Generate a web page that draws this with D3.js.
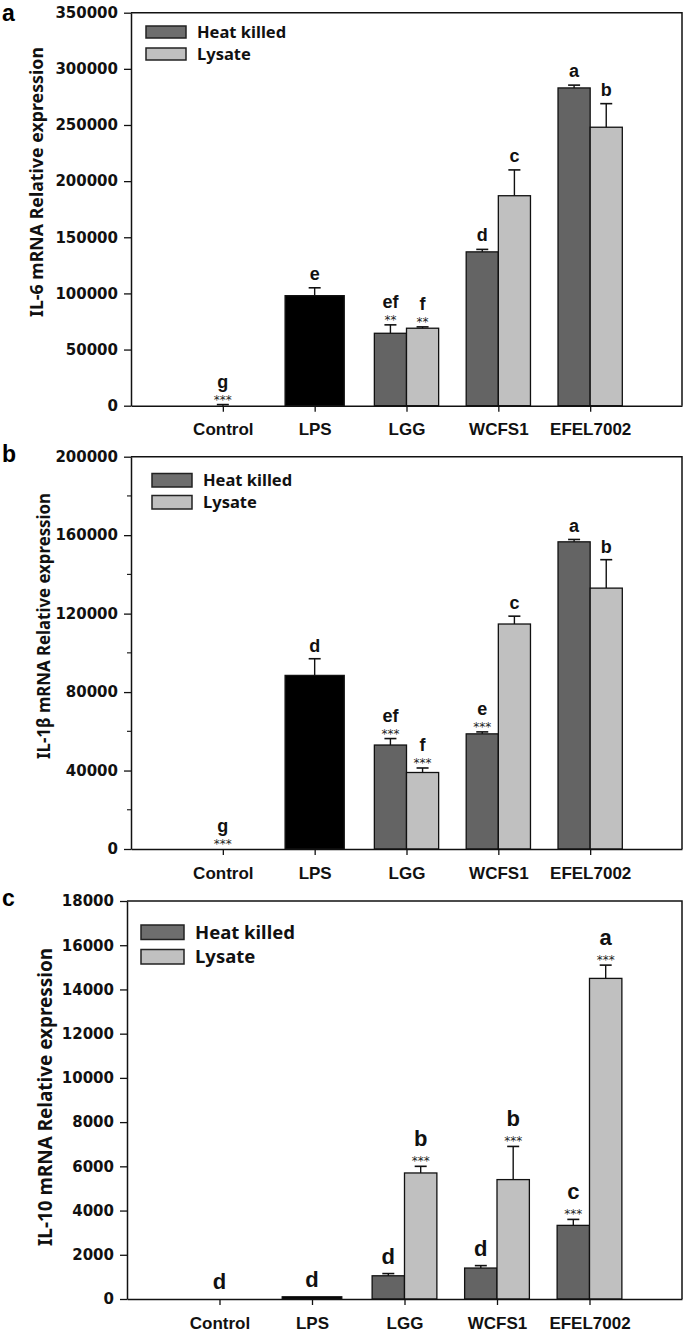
<!DOCTYPE html>
<html><head><meta charset="utf-8">
<script src="https://cdn.jsdelivr.net/npm/d3@7"></script>
<style>body{margin:0;background:#fff}</style>
</head><body>
<svg id="chart" width="685" height="1331"></svg>
<script>
// ---------- data ----------
const categories = ["Control", "LPS", "LGG", "WCFS1", "EFEL7002"];
const seriesNames = ["Heat killed", "Lysate"];

// IL-6 (panel a)
const il6Single      = [1, 98000, null, null, null];
const il6SingleErr   = [1000, 7000, null, null, null];
const il6Heat        = [null, null, 64500, 137000, 283000];
const il6HeatErr     = [null, null, 7500, 2200, 2500];
const il6Lys         = [null, null, 69000, 187000, 248000];
const il6LysErr      = [null, null, 1200, 23000, 21000];
const il6SingleLet   = ["g", "e", null, null, null];
const il6SingleStar  = ["***", "", null, null, null];
const il6HeatLet     = [null, null, "ef", "d", "a"];
const il6HeatStar    = [null, null, "**", "", ""];
const il6LysLet      = [null, null, "f", "c", "b"];
const il6LysStar     = [null, null, "**", "", ""];
const il6Ticks       = [0, 50000, 100000, 150000, 200000, 250000, 300000, 350000];

// IL-1β (panel b)
const il1bSingle     = [1, 88500, null, null, null];
const il1bSingleErr  = [0, 8500, null, null, null];
const il1bHeat       = [null, null, 53000, 58700, 156600];
const il1bHeatErr    = [null, null, 3300, 1000, 1200];
const il1bLys        = [null, null, 39000, 114700, 133000];
const il1bLysErr     = [null, null, 2300, 4000, 14500];
const il1bSingleLet  = ["g", "d", null, null, null];
const il1bSingleStar = ["***", "", null, null, null];
const il1bHeatLet    = [null, null, "ef", "e", "a"];
const il1bHeatStar   = [null, null, "***", "***", ""];
const il1bLysLet     = [null, null, "f", "c", "b"];
const il1bLysStar    = [null, null, "***", "", ""];
const il1bTicks      = [0, 40000, 80000, 120000, 160000, 200000];
const il1bMinorTicks = [20000, 60000, 100000, 140000, 180000];

// IL-10 (panel c)
const il10Single     = [1, 100, null, null, null];
const il10SingleErr  = [0, 0, null, null, null];
const il10Heat       = [null, null, 1050, 1400, 3330];
const il10HeatErr    = [null, null, 100, 110, 270];
const il10Lys        = [null, null, 5700, 5400, 14500];
const il10LysErr     = [null, null, 300, 1500, 600];
const il10SingleLet  = ["d", "d", null, null, null];
const il10SingleStar = ["", "", null, null, null];
const il10HeatLet    = [null, null, "d", "d", "c"];
const il10HeatStar   = [null, null, "", "", "***"];
const il10LysLet     = [null, null, "b", "b", "a"];
const il10LysStar    = [null, null, "***", "***", "***"];
const il10Ticks      = [0, 2000, 4000, 6000, 8000, 10000, 12000, 14000, 16000, 18000];

// ---------- styles / layout ----------
const colHeat = "#646464", colLys = "#c0c0c0", colSingle = "#000000";
const tickFont = "'DejaVu Sans', sans-serif";
const catFont = "'Liberation Sans', Arial, sans-serif";
const legFont = "'Noto Sans', 'Open Sans', sans-serif";

const panels = [
  { label: "a", title: "IL-6 mRNA Relative expression",
    single: il6Single, singleErr: il6SingleErr, heat: il6Heat, heatErr: il6HeatErr, lys: il6Lys, lysErr: il6LysErr,
    singleLet: il6SingleLet, singleStar: il6SingleStar, heatLet: il6HeatLet, heatStar: il6HeatStar, lysLet: il6LysLet, lysStar: il6LysStar,
    ticks: il6Ticks, minor: [],
    L: { x0: 131, x1: 682, yTop: 12.7, yBot: 405.7, labelY: 21, titleX: 37, titleY: 182, titleLen: 270, titleSize: 17,
         legX: 146, legY: 26, legW: 40, legH: 12, legGap: 22, legSize: 16.5, letSize: 18, letGap: 8, starGap: 15 } },
  { label: "b", title: "IL-1β mRNA Relative expression",
    single: il1bSingle, singleErr: il1bSingleErr, heat: il1bHeat, heatErr: il1bHeatErr, lys: il1bLys, lysErr: il1bLysErr,
    singleLet: il1bSingleLet, singleStar: il1bSingleStar, heatLet: il1bHeatLet, heatStar: il1bHeatStar, lysLet: il1bLysLet, lysStar: il1bLysStar,
    ticks: il1bTicks, minor: il1bMinorTicks,
    L: { x0: 131, x1: 682, yTop: 456.7, yBot: 849, labelY: 462, titleX: 44, titleY: 626, titleLen: 266, titleSize: 17,
         legX: 152, legY: 473.5, legW: 40, legH: 13.5, legGap: 22, legSize: 16.5, letSize: 18, letGap: 7, starGap: 15 } },
  { label: "c", title: "IL-10 mRNA Relative expression",
    single: il10Single, singleErr: il10SingleErr, heat: il10Heat, heatErr: il10HeatErr, lys: il10Lys, lysErr: il10LysErr,
    singleLet: il10SingleLet, singleStar: il10SingleStar, heatLet: il10HeatLet, heatStar: il10HeatStar, lysLet: il10LysLet, lysStar: il10LysStar,
    ticks: il10Ticks, minor: [],
    L: { x0: 127, x1: 682, yTop: 901, yBot: 1299, labelY: 906, titleX: 45, titleY: 1097, titleLen: 298, titleSize: 19,
         legX: 141, legY: 925, legW: 43, legH: 14.5, legGap: 24.5, legSize: 18.5, letSize: 22, letGap: 10, starGap: 18 } }
];

const svg = d3.select("#chart");

panels.forEach(p => {
  const L = p.L;
  const g = svg.append("g");
  const x = d3.scalePoint().domain(["_l", ...categories, "_r"]).range([L.x0, L.x1]);
  const y = d3.scaleLinear().domain([0, d3.max(p.ticks)]).range([L.yBot, L.yTop]);
  const bw = x.step() * 0.35;

  const bars = [];
  categories.forEach((c, i) => {
    if (p.single[i] != null) {
      bars.push({ cat: c, x0: x(c) - bw * 0.92, w: bw * 1.84, v: p.single[i], e: p.singleErr[i], fill: colSingle, letter: p.singleLet[i], star: p.singleStar[i] });
    }
    if (p.heat[i] != null) {
      bars.push({ cat: c, x0: x(c) - bw, w: bw, v: p.heat[i], e: p.heatErr[i], fill: colHeat, letter: p.heatLet[i], star: p.heatStar[i] });
    }
    if (p.lys[i] != null) {
      bars.push({ cat: c, x0: x(c), w: bw, v: p.lys[i], e: p.lysErr[i], fill: colLys, letter: p.lysLet[i], star: p.lysStar[i] });
    }
  });

  g.selectAll("rect.bar").data(bars.filter(d => d.v > 10)).join("rect")
    .attr("class", "bar")
    .attr("x", d => d.x0).attr("width", d => d.w)
    .attr("y", d => y(d.v)).attr("height", d => y(0) - y(d.v))
    .attr("fill", d => d.fill).attr("stroke", "#111").attr("stroke-width", 1.3);

  const eb = bars.filter(d => d.e > 0);
  g.selectAll("line.err").data(eb).join("line").attr("class", "err")
    .attr("x1", d => d.x0 + d.w / 2).attr("x2", d => d.x0 + d.w / 2)
    .attr("y1", d => y(d.v)).attr("y2", d => y(d.v + d.e))
    .attr("stroke", "#111").attr("stroke-width", 1.4);
  g.selectAll("line.cap").data(eb).join("line").attr("class", "cap")
    .attr("x1", d => d.x0 + d.w / 2 - 6).attr("x2", d => d.x0 + d.w / 2 + 6)
    .attr("y1", d => y(d.v + d.e)).attr("y2", d => y(d.v + d.e))
    .attr("stroke", "#111").attr("stroke-width", 1.6);

  bars.forEach(d => {
    const cap = y(d.v + (d.e || 0));
    const cx = d.x0 + d.w / 2;
    const hasStar = d.star && d.star.length > 0;
    if (hasStar) {
      g.append("text").attr("x", cx).attr("y", cap - 1)
        .attr("text-anchor", "middle").attr("font-family", tickFont).attr("font-size", 12)
        .attr("fill", "#222").text(d.star);
    }
    if (d.letter) {
      g.append("text").attr("x", cx).attr("y", cap - (hasStar ? L.starGap + 2 : L.letGap))
        .attr("text-anchor", "middle").attr("font-family", catFont).attr("font-weight", "bold")
        .attr("font-size", L.letSize).attr("fill", "#111").text(d.letter);
    }
  });

  const ya = g.append("g").attr("transform", `translate(${L.x0},0)`)
    .call(d3.axisLeft(y).tickValues(p.ticks).tickSize(7).tickSizeOuter(0).tickPadding(6).tickFormat(d3.format("d")));
  ya.select(".domain").attr("stroke", "#111").attr("stroke-width", 1.5);
  ya.selectAll(".tick line").attr("stroke", "#111").attr("stroke-width", 1.3);
  ya.selectAll(".tick text").attr("font-family", tickFont).attr("font-weight", "bold")
    .attr("font-size", 15).attr("fill", "#111");
  if (p.minor.length) {
    g.selectAll("line.minor").data(p.minor).join("line").attr("class", "minor")
      .attr("x1", L.x0 - 4).attr("x2", L.x0).attr("y1", d => y(d)).attr("y2", d => y(d))
      .attr("stroke", "#111").attr("stroke-width", 1.1);
  }

  const xa = g.append("g").attr("transform", `translate(0,${L.yBot})`)
    .call(d3.axisBottom(x).tickValues(categories).tickSize(6).tickSizeOuter(0));
  xa.select(".domain").attr("stroke", "#111").attr("stroke-width", 1.5);
  xa.selectAll(".tick line").attr("stroke", "#111").attr("stroke-width", 1.3);
  xa.selectAll(".tick text").attr("y", 29.5).attr("dy", 0)
    .attr("font-family", catFont).attr("font-weight", "bold").attr("font-size", 17).attr("fill", "#111");

  g.append("path").attr("d", `M${L.x0},${L.yTop}H${L.x1}V${L.yBot}`)
    .attr("fill", "none").attr("stroke", "#111").attr("stroke-width", 1.5);

  seriesNames.forEach((s, i) => {
    const yy = L.legY + i * L.legGap;
    g.append("rect").attr("x", L.legX).attr("y", yy).attr("width", L.legW).attr("height", L.legH)
      .attr("fill", i === 0 ? "#6e6e6e" : colLys).attr("stroke", "#222").attr("stroke-width", 1.5);
    g.append("text").attr("x", L.legX + L.legW + 11).attr("y", yy + L.legH / 2).attr("dy", "0.36em")
      .attr("font-family", legFont).attr("font-weight", "bold").attr("font-size", L.legSize)
      .attr("fill", "#111").text(s);
  });

  g.append("text")
    .attr("transform", `translate(${L.titleX + L.titleSize * 0.36},${L.titleY}) rotate(-90)`)
    .attr("text-anchor", "middle").attr("font-family", legFont).attr("font-weight", "bold")
    .attr("font-size", L.titleSize).attr("textLength", L.titleLen).attr("lengthAdjust", "spacingAndGlyphs")
    .attr("fill", "#111").text(p.title);

  g.append("text").attr("x", 2).attr("y", L.labelY)
    .attr("font-family", catFont).attr("font-weight", "bold").attr("font-size", 23)
    .attr("fill", "#000").text(p.label);
});
</script>
</body></html>
